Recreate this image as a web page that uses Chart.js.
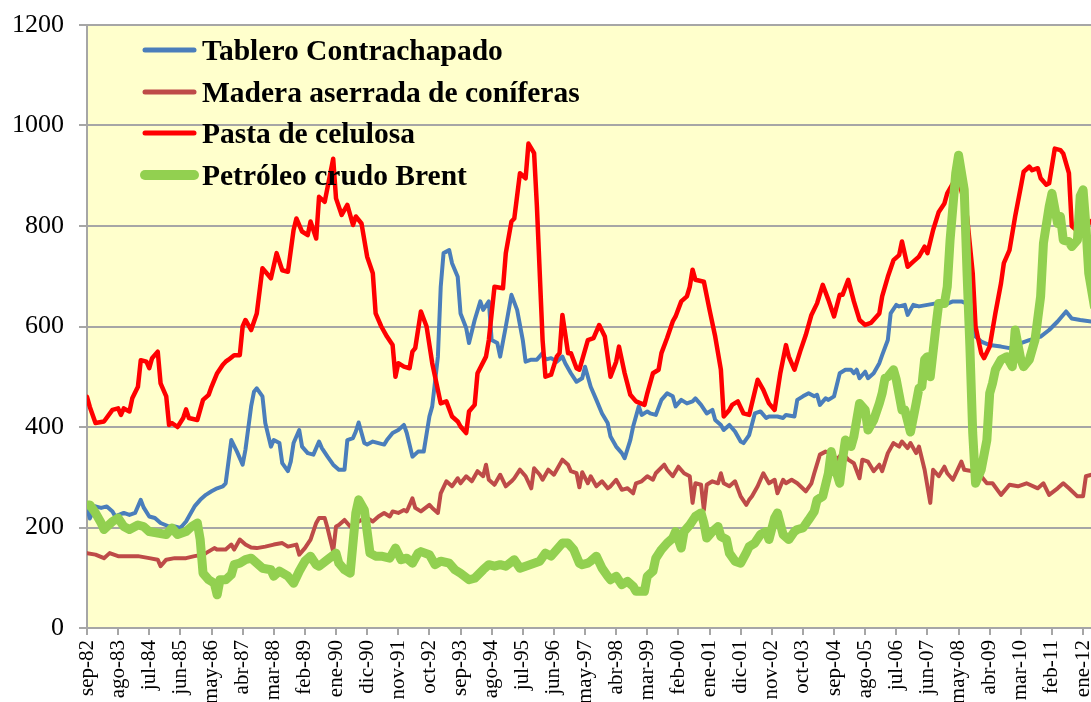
<!DOCTYPE html>
<html>
<head>
<meta charset="utf-8">
<script src="https://cdn.jsdelivr.net/npm/chart.js@4.4.1/dist/chart.umd.min.js"></script>
<style>
  html, body { margin: 0; padding: 0; background: #ffffff; }
  #wrap { width: 1091px; height: 702px; }
</style>
</head>
<body>
<div id="wrap"><canvas id="c" width="1091" height="702"></canvas></div>
<script>
// ---- Tick labels (every 11 months, month index counted from sep-82) ----
const tickMonths = [0,11,22,33,44,55,66,77,88,99,110,121,132,143,154,165,176,187,198,209,220,231,242,253,264,275,286,297,308,319,330,341,352];
const tickLabels = ['sep-82','ago-83','jul-84','jun-85','may-86','abr-87','mar-88','feb-89','ene-90','dic-90','nov-91','oct-92','sep-93','ago-94','jul-95','jun-96','may-97','abr-98','mar-99','feb-00','ene-01','dic-01','nov-02','oct-03','sep-04','ago-05','jul-06','jun-07','may-08','abr-09','mar-10','feb-11','ene-12'];

const seriesNames = ['Tablero Contrachapado','Madera aserrada de coníferas','Pasta de celulosa','Petróleo crudo Brent'];

// ---- Tablero Contrachapado ----
const plywoodMonths = [0,1,3,5,7,9,10,13,15,17,19,20,22,24,26,29,31,33,35,36,38,40,42,44,46,48,49,51,53,55,56,58,59,60,62,63,65,66,68,69,71,72,73,75,76,78,80,82,83,85,87,89,91,92,94,95,96,98,99,101,103,105,106,108,110,112,113,115,117,119,121,122,124,125,126,128,129,131,132,134,135,137,139,140,142,143,145,146,148,150,152,154,155,157,159,161,162,164,166,168,169,171,173,175,176,178,180,182,184,185,187,189,190,192,193,195,196,198,199,201,203,205,207,208,210,212,214,215,217,219,221,222,224,225,227,229,231,232,234,236,238,240,241,244,246,247,250,251,253,255,257,258,259,261,262,264,266,268,270,271,272,273,275,276,278,280,281,283,284,286,287,289,290,292,294,297,300,303,306,309,312,314,316,319,323,326,330,333,337,340,343,346,348,351,355];
const plywoodValues = [240,218,242,239,242,232,222,229,225,229,255,240,222,219,209,202,202,199,212,222,242,255,265,272,278,282,288,374,351,325,355,441,470,477,461,408,361,374,368,328,312,331,368,394,361,348,345,371,358,341,325,315,315,374,378,391,409,368,365,371,368,365,374,388,394,404,388,341,351,351,421,441,540,679,746,752,726,699,626,597,567,613,650,633,650,573,567,540,600,663,633,573,530,534,534,547,534,537,530,540,527,507,490,497,520,480,454,427,408,381,361,348,338,374,401,441,424,431,427,424,454,467,461,441,454,447,451,457,444,427,434,414,404,394,404,391,371,368,384,427,431,418,421,421,418,424,421,454,461,467,461,464,444,457,454,461,507,514,514,507,514,497,510,497,507,527,543,573,626,643,640,643,623,643,640,643,646,643,650,650,643,580,570,563,560,557,567,573,580,593,610,630,616,613,610];

// ---- Madera aserrada de coníferas ----
const lumberMonths = [0,3,6,8,11,15,18,22,25,26,28,31,35,38,41,42,45,46,49,51,52,54,56,58,60,63,66,69,71,74,75,77,79,81,82,84,85,87,88,89,91,93,95,97,99,101,103,105,107,108,110,112,113,115,116,118,121,122,124,125,127,129,131,132,134,136,138,140,141,142,144,146,148,150,151,153,155,157,158,160,161,163,165,167,168,170,171,173,174,175,177,178,180,182,184,185,187,189,191,193,194,196,198,200,201,204,205,207,209,211,213,214,215,217,218,219,221,223,224,225,227,229,231,233,234,235,237,239,241,243,244,246,247,249,251,254,256,257,259,261,263,265,267,269,271,273,274,276,278,280,281,283,285,287,288,290,291,293,294,296,298,299,301,303,304,306,309,310,313,316,318,320,323,326,329,332,336,338,340,343,345,347,350,352,353,355];
const lumberValues = [149,146,139,149,143,143,143,139,136,123,136,139,139,143,146,149,159,156,156,166,156,176,166,160,159,162,166,169,162,166,146,159,176,209,219,219,199,152,202,205,215,202,209,215,219,212,222,229,222,232,229,235,232,258,239,232,245,239,229,268,292,282,298,288,302,292,312,302,325,295,285,305,282,292,298,315,302,278,318,305,295,315,305,325,335,325,312,308,280,310,288,302,282,292,278,282,295,275,278,268,288,292,302,295,308,325,315,302,321,308,302,249,288,285,235,285,292,288,308,288,282,292,262,245,255,262,282,308,288,295,268,295,288,295,288,272,288,308,345,351,348,335,348,335,328,298,335,331,312,325,312,348,368,361,371,358,368,348,361,315,249,315,302,321,308,295,331,315,312,302,288,288,265,285,282,288,278,288,265,278,288,278,262,262,302,305];

// ---- Pasta de celulosa ----
const pulpMonths = [0,1,3,6,9,11,12,13,15,16,18,19,21,22,23,25,26,28,29,30,32,34,35,36,39,41,43,44,46,48,49,50,52,54,55,56,58,60,62,65,67,69,71,73,74,76,78,79,81,82,84,86,87,88,90,92,94,95,97,99,101,102,104,106,108,109,110,112,114,115,116,118,120,122,125,127,129,131,132,134,135,137,138,141,142,144,147,148,150,151,153,155,156,158,159,161,162,164,166,167,168,170,171,173,174,177,179,181,183,185,187,188,190,192,194,197,198,200,202,203,205,207,208,210,212,213,214,215,218,220,222,224,225,227,228,230,232,234,237,239,241,243,245,247,248,250,252,254,256,258,260,262,264,266,267,269,271,273,275,277,280,281,283,285,287,288,290,292,294,296,297,299,301,303,304,306,308,310,311,313,314,316,317,319,321,323,324,326,328,330,331,333,334,336,337,339,340,342,344,345,347,348,350,352,354,356];
const pulpValues = [460,440,408,411,434,437,424,437,431,457,480,533,530,517,537,550,487,461,404,408,400,418,435,418,414,454,464,480,507,524,530,534,543,543,600,613,593,626,716,696,746,712,709,792,815,789,782,809,775,858,848,905,934,855,822,842,802,819,805,739,706,626,600,580,563,500,527,520,517,550,557,630,600,527,447,451,421,411,401,388,431,444,507,540,573,679,676,746,809,815,905,895,964,945,838,573,500,504,540,547,623,547,547,517,514,573,577,603,580,500,530,560,507,464,451,444,467,507,514,547,577,610,620,650,660,679,713,693,689,633,580,514,421,434,444,451,427,424,494,474,447,434,507,563,540,514,550,583,623,646,683,653,620,663,663,693,650,613,603,607,626,660,699,732,742,769,719,729,739,759,746,792,828,845,865,885,890,850,818,706,600,547,537,560,626,686,726,752,819,878,908,918,911,915,895,882,885,954,951,944,905,800,790,795,805,815];

// ---- Petróleo crudo Brent ----
const brentMonths = [0,1,3,5,6,9,11,13,15,18,20,22,25,28,30,32,35,37,39,40,41,43,45,46,47,49,51,52,54,56,58,60,62,65,66,68,71,73,75,77,79,81,82,85,88,89,91,93,95,96,98,100,102,104,107,109,111,113,115,117,118,121,123,125,128,130,132,135,137,140,142,144,146,148,151,153,155,158,160,162,164,166,168,170,172,174,175,177,178,180,182,184,185,187,189,191,193,194,197,198,200,201,203,205,207,208,210,211,213,215,217,218,219,221,223,224,226,227,229,231,233,234,236,238,240,241,243,244,246,248,250,251,253,255,257,258,260,262,263,264,266,267,268,270,271,273,275,276,278,280,281,282,283,285,286,288,289,291,293,294,295,296,297,298,300,301,303,304,305,307,308,310,311,312,313,314,316,318,319,320,321,323,325,327,328,330,331,333,335,337,338,340,341,343,344,345,347,348,350,351,352,353,354,356];
const brentValues = [245,245,229,209,196,212,219,202,196,205,202,192,189,186,199,186,192,202,209,176,109,96,89,66,96,96,106,126,129,136,139,129,119,116,103,113,103,89,113,133,143,126,123,136,149,129,116,109,229,255,235,149,143,143,139,159,136,139,129,149,152,146,126,133,129,116,109,96,99,116,126,123,126,123,136,119,123,129,133,149,143,156,169,169,156,129,126,129,133,143,119,103,96,103,86,93,83,73,73,103,113,139,156,169,179,192,159,192,205,222,229,209,179,192,202,182,176,149,133,129,150,162,169,186,192,176,219,229,186,176,192,196,199,215,232,255,262,308,351,325,288,335,374,361,381,447,434,394,414,447,467,497,500,514,494,434,434,390,447,477,480,534,540,500,600,646,646,679,772,905,941,872,706,560,388,288,315,374,467,487,514,534,540,520,593,534,520,534,573,660,766,838,865,805,819,772,769,759,772,860,872,800,706,640];

const yTicks = [0,200,400,600,800,1000,1200];

function toPoints(months, values) {
  return months.map((m, i) => ({ x: m, y: values[i] }));
}

const plotBg = {
  id: 'plotBg',
  beforeDraw(chart) {
    const { ctx, chartArea: a } = chart;
    ctx.save();
    ctx.fillStyle = '#FFFFCC';
    ctx.fillRect(a.left, a.top, a.right - a.left, a.bottom - a.top);
    ctx.restore();
  }
};

const lineLegend = {
  id: 'lineLegend',
  afterDatasetsDraw(chart) {
    const ctx = chart.ctx;
    const rows = [50, 92, 133, 175];
    ctx.save();
    chart.data.datasets.forEach((ds, i) => {
      const y = rows[i];
      ctx.beginPath();
      ctx.lineCap = 'round';
      ctx.strokeStyle = ds.borderColor;
      ctx.lineWidth = ds.legendWidth;
      ctx.moveTo(145, y);
      ctx.lineTo(194, y);
      ctx.stroke();
      ctx.fillStyle = '#000000';
      ctx.font = 'bold 29.5px "Liberation Serif", "Times New Roman", serif';
      ctx.textAlign = 'left';
      ctx.textBaseline = 'alphabetic';
      ctx.fillText(ds.label, 202, y + 10);
    });
    ctx.restore();
  }
};

const gridColor = '#A6A6A6';

new Chart(document.getElementById('c'), {
  type: 'line',
  data: {
    datasets: [
      { label: seriesNames[0], data: toPoints(plywoodMonths, plywoodValues), borderColor: '#4A7EBB', borderWidth: 4, legendWidth: 5, order: 4 },
      { label: seriesNames[1], data: toPoints(lumberMonths, lumberValues), borderColor: '#BE4B48', borderWidth: 4, legendWidth: 5, order: 3 },
      { label: seriesNames[2], data: toPoints(pulpMonths, pulpValues), borderColor: '#FF0000', borderWidth: 4.5, legendWidth: 5, order: 2 },
      { label: seriesNames[3], data: toPoints(brentMonths, brentValues), borderColor: '#92D050', borderWidth: 9, legendWidth: 10, order: 1 }
    ]
  },
  options: {
    responsive: false,
    animation: false,
    events: [],
    layout: { padding: { top: 25, right: 0, left: 0, bottom: 0 } },
    elements: {
      point: { radius: 0 },
      line: { tension: 0, borderJoinStyle: 'round', borderCapStyle: 'round', fill: false }
    },
    plugins: {
      legend: { display: false },
      tooltip: { enabled: false },
      title: { display: false }
    },
    scales: {
      x: {
        type: 'linear',
        min: 0,
        max: 354.8,
        afterBuildTicks(scale) { scale.ticks = tickMonths.map(v => ({ value: v })); },
        afterFit(scale) { scale.height = 74; scale.paddingLeft = 0; scale.paddingRight = 0; },
        ticks: {
          autoSkip: false,
          maxRotation: 90,
          minRotation: 90,
          padding: 5,
          color: '#000000',
          font: { family: '"Liberation Serif", "Times New Roman", serif', size: 21 },
          callback(value) { const i = tickMonths.indexOf(value); return i >= 0 ? tickLabels[i] : ''; }
        },
        grid: { drawOnChartArea: false, drawTicks: true, tickLength: 7, color: gridColor, lineWidth: 2 },
        border: { display: true, color: gridColor, width: 2 }
      },
      y: {
        min: 0,
        max: 1200,
        afterBuildTicks(scale) { scale.ticks = yTicks.map(v => ({ value: v })); },
        afterFit(scale) { scale.width = 87; scale.paddingTop = 0; scale.paddingBottom = 0; },
        ticks: {
          padding: 15,
          color: '#000000',
          font: { family: '"Liberation Serif", "Times New Roman", serif', size: 26 },
          callback(value) { return String(value); }
        },
        grid: { drawOnChartArea: true, drawTicks: true, tickLength: 8, color: gridColor, lineWidth: 2 },
        border: { display: true, color: gridColor, width: 2 }
      }
    }
  },
  plugins: [plotBg, lineLegend]
});
</script>
</body>
</html>
